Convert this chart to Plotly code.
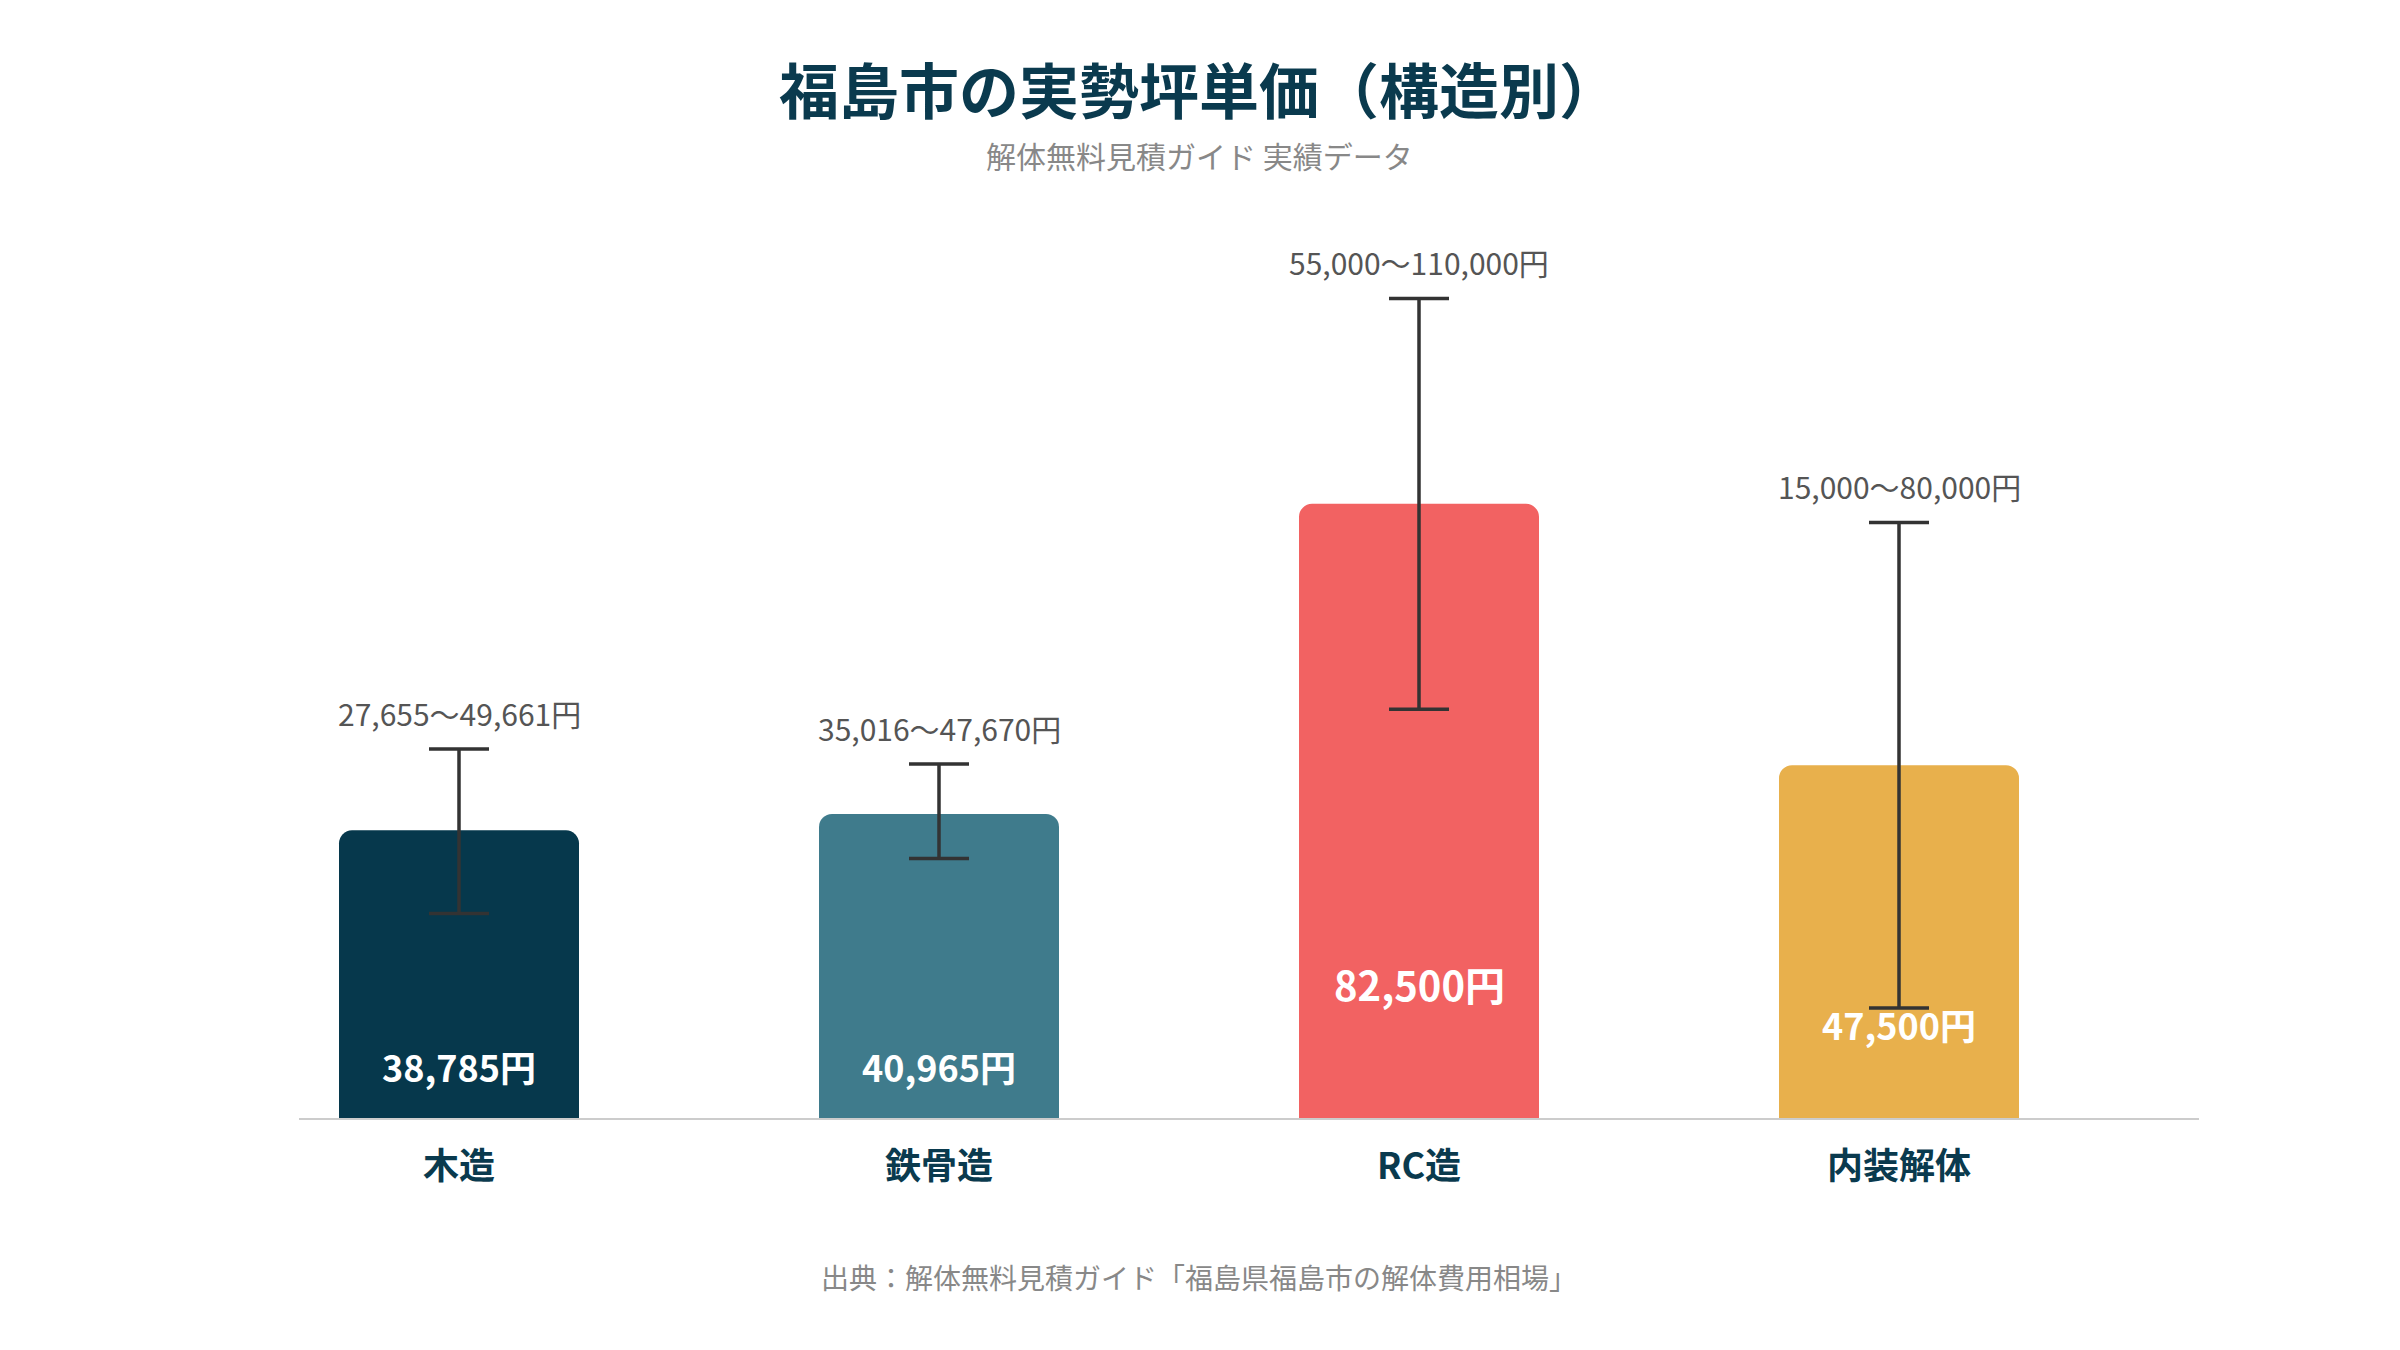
import plotly.graph_objects as go

categories = ["木造", "鉄骨造", "RC造", "内装解体"]
avg_values = [38785, 40965, 82500, 47500]
min_values = [27655, 35016, 55000, 15000]
max_values = [49661, 47670, 110000, 80000]
bar_colors = ["#06384c", "#3f7b8c", "#f26262", "#e8b04c"]

# style: vertical offsets (px above base) and font sizes for the in-bar value labels
value_label_shift = [54, 54, 136, 96]
value_label_size = [36, 36, 40, 36]

FONT = "Noto Sans CJK JP"
DARK = "#0a3a4e"

W, H = 2400, 1350
PLOT_L, PLOT_R = 211, 2131
PLOT_TOP, PLOT_BOTTOM = 212, 1112
PLOT_W = PLOT_R - PLOT_L
PLOT_H = PLOT_BOTTOM - PLOT_TOP
CENTER_X = 1191


def paper_x(px):
    return (px - PLOT_L) / PLOT_W


def paper_y(py):
    return (PLOT_BOTTOM - py) / PLOT_H


fig = go.Figure()
fig.add_trace(go.Bar(
    x=categories,
    y=avg_values,
    marker=dict(color=bar_colors, line=dict(width=0)),
    width=0.5,
    error_y=dict(
        type="data",
        symmetric=False,
        array=[mx - v for mx, v in zip(max_values, avg_values)],
        arrayminus=[v - mn for mn, v in zip(min_values, avg_values)],
        color="#333333",
        thickness=3.5,
        width=30,
    ),
    hoverinfo="skip",
    showlegend=False,
))

annotations = []
for c, v, mn, mx, sh, fs in zip(categories, avg_values, min_values, max_values,
                                value_label_shift, value_label_size):
    annotations.append(dict(
        x=c, y=mx, xref="x", yref="y", text=f"{mn:,}〜{mx:,}円",
        showarrow=False, yanchor="middle", yshift=36,
        font=dict(family=FONT, size=30, color="#555555"),
    ))
    annotations.append(dict(
        x=c, y=0, xref="x", yref="y", text=f"<b>{v:,}円</b>",
        showarrow=False, yanchor="middle", yshift=sh,
        font=dict(family=FONT, size=fs, color="#ffffff"),
    ))

annotations.append(dict(
    x=paper_x(CENTER_X), y=paper_y(80), xref="paper", yref="paper",
    text="<b>福島市の実勢坪単価（構造別）</b>", showarrow=False,
    xanchor="center", yanchor="middle",
    font=dict(family=FONT, size=60, color=DARK),
))
annotations.append(dict(
    x=paper_x(CENTER_X), y=paper_y(147), xref="paper", yref="paper",
    text="解体無料見積ガイド 実績データ", showarrow=False,
    xanchor="center", yanchor="middle",
    font=dict(family=FONT, size=30, color="#888888"),
))
annotations.append(dict(
    x=paper_x(CENTER_X), y=paper_y(1269), xref="paper", yref="paper",
    text="出典：解体無料見積ガイド「福島県福島市の解体費用相場」", showarrow=False,
    xanchor="center", yanchor="middle",
    font=dict(family=FONT, size=28, color="#888888"),
))

fig.update_layout(
    width=W, height=H,
    paper_bgcolor="#ffffff", plot_bgcolor="#ffffff",
    margin=dict(l=PLOT_L, r=W - PLOT_R, t=PLOT_TOP, b=H - PLOT_BOTTOM),
    barcornerradius=13,
    xaxis=dict(
        type="category", range=[-0.5, 3.5],
        showgrid=False, zeroline=False, showline=False, ticks="",
        tickfont=dict(family=FONT, size=36, color=DARK, weight="bold"),
        ticklabelstandoff=22,
    ),
    yaxis=dict(visible=False, range=[0, 120500], showgrid=False, zeroline=False),
    shapes=[dict(
        type="line", xref="paper", yref="y",
        x0=paper_x(291), x1=paper_x(2191), y0=0, y1=0,
        line=dict(color="#cccccc", width=4), layer="above",
    )],
    annotations=annotations,
)

fig.write_html("out.html")
